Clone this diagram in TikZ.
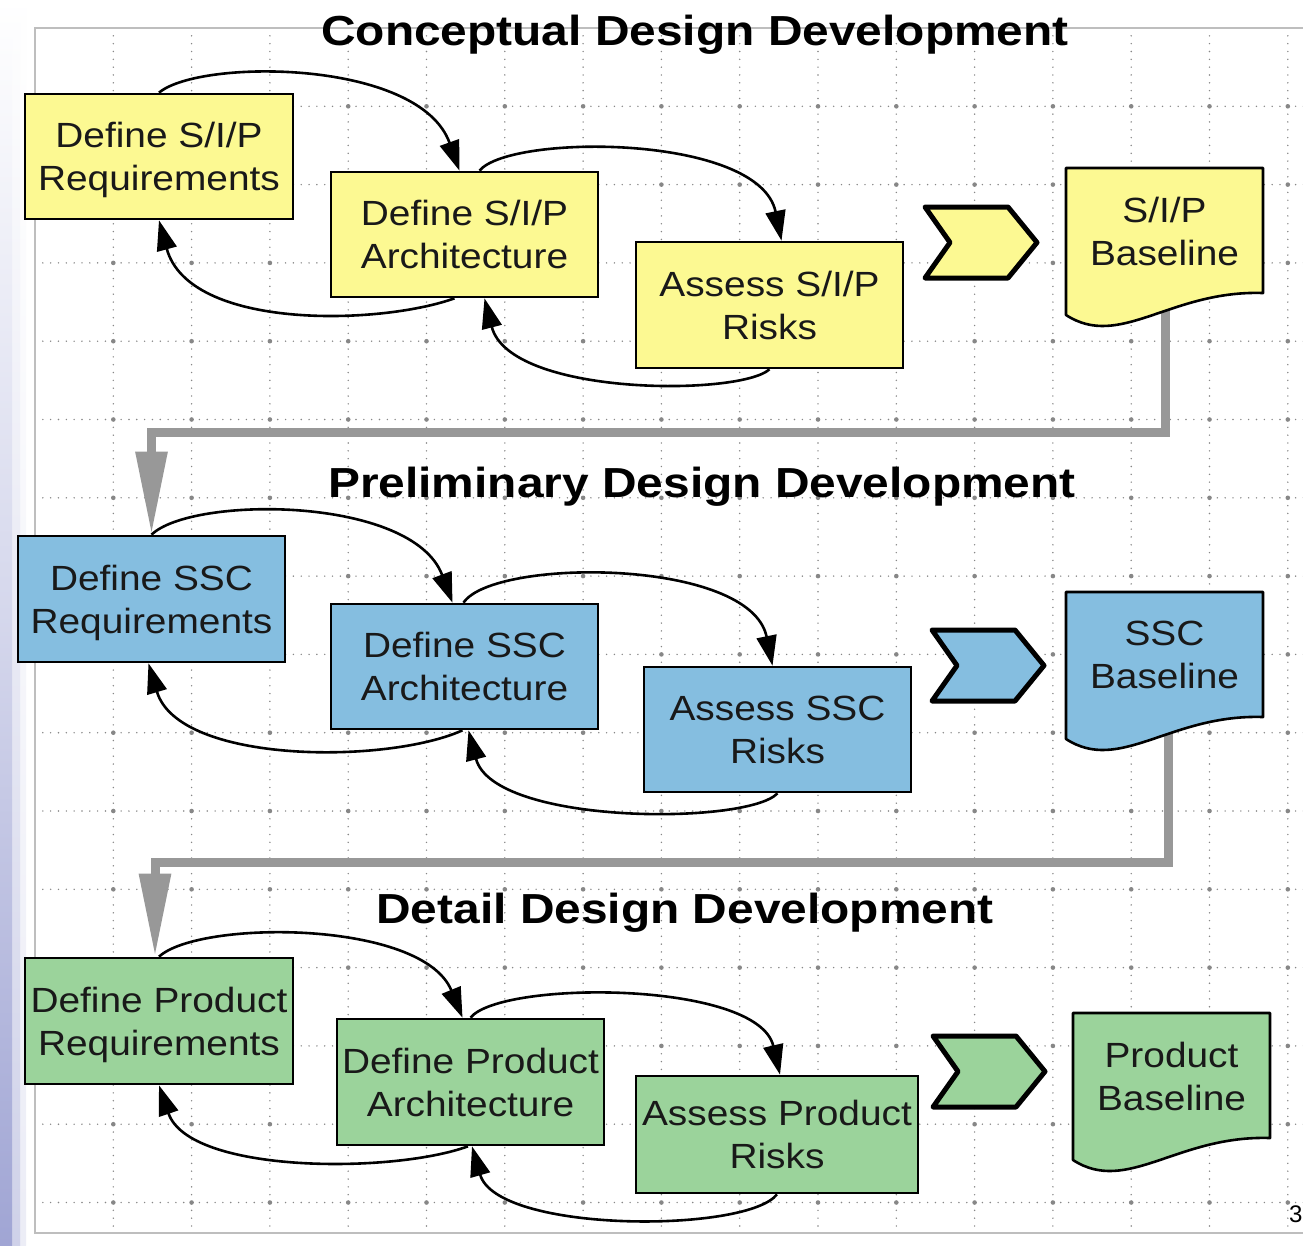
\documentclass[tikz,border=0pt]{standalone}
\usepackage{fontspec}
\setmainfont{Liberation Sans}
\newfontfamily\boxfont{Liberation Sans}[FakeStretch=1.11]
\newfontfamily\headfont{Liberation Sans}[FakeStretch=1.14]
\usetikzlibrary{arrows.meta}

\definecolor{fillY}{RGB}{252,249,146}
\definecolor{fillB}{RGB}{133,190,224}
\definecolor{fillG}{RGB}{155,211,155}
\definecolor{flowgray}{RGB}{152,152,152}
\definecolor{gridgray}{RGB}{135,135,135}
\definecolor{framegray}{RGB}{190,190,190}
\definecolor{lav}{RGB}{160,165,212}

% last text line without its descender, so the lines sit centred on the caps
\newcommand\nodepth[1]{\raisebox{0pt}[\height][0pt]{#1}}
% document symbol with a wavy lower edge: x0, y0, fill, name, text
\newcommand\basedoc[5]{%
  \filldraw[docline, fill=#3] (#1,#2) -- ++(197,0) -- ++(0,125)
     .. controls +(-93,-3) and +(54,35) .. ++(-197,22) -- cycle;
  \node[doctext] (#4) at ({#1+98.5},{#2+63}) {#5};}
% chevron marker: x0, y0, fill
\newcommand\chevshape[3]{%
  \filldraw[chevline, fill=#3] (#1,#2) -- ++(83,0) -- ++(29,35.5)
     -- ++(-29,35.5) -- ++(-83,0) -- ++(25,-35.5) -- cycle;}

\begin{document}
\begin{tikzpicture}[x=1pt,y=-1pt,
  taskbox/.style={draw=black, line width=2.6pt, inner sep=0pt, align=center,
    minimum width=267pt, minimum height=126pt,
    font=\boxfont\fontsize{35}{43}\selectfont, text=black!90},
  doctext/.style={inner sep=0pt, align=center,
    font=\boxfont\fontsize{35}{43}\selectfont, text=black!90},
  docline/.style={draw=black, line width=2.6pt, line join=round},
  chevline/.style={draw=black, line width=5pt, line join=round},
  headline/.style={inner sep=0pt, anchor=base,
    font=\headfont\bfseries\fontsize{42}{50}\selectfont},
  loop/.style={draw=black, line width=2.6pt,
    -{Triangle[length=30pt,width=20pt]}},
  flow/.style={draw=flowgray, line width=9pt,
    -{Triangle[length=83pt,width=30pt]}},
  gridline/.style={draw=gridgray, line width=1.6pt, line cap=round,
    dash pattern=on 0pt off 7.83pt},
]
\useasboundingbox (0,0) rectangle (1303,1245);
\fill[white] (0,0) rectangle (1303,1245);

% slide edge
\shade[top color=white, bottom color=lav, middle color=lav!45] (0,0) rectangle (12,1245);
\shade[top color=white, bottom color=lav, middle color=lav!45, opacity=0.5] (12,0) rectangle (20,1245);
\shade[top color=white, bottom color=lav, middle color=lav!45, opacity=0.2] (20,0) rectangle (26,1245);

% dotted grid
\foreach \k in {1,...,16} {
  \draw[gridline] ({35+78.3*\k},28) -- ({35+78.3*\k},1233);
}
\foreach \k in {1,...,15} {
  \draw[gridline] (35,{28+78.3*\k}) -- (1315,{28+78.3*\k});
}
\foreach \i in {1,...,16} {
  \foreach \j in {1,...,15} {
    \fill[gridgray] ({35+78.3*\i},{28+78.3*\j}) circle[radius=2.3pt];
  }
}
\draw[framegray, line width=1.6pt] (35,28) rectangle (1320,1233);

% titles
\node[headline] (t1) at (695,45) {Conceptual Design Development};
\node[headline] (t2) at (702,497) {Preliminary Design Development};
\node[headline] (t3) at (685,923) {Detail Design Development};

% task boxes
\node[taskbox, fill=fillY, minimum width=268pt, minimum height=125pt] (A1) at (159,156.5) {Define S/I/P\\\nodepth{Requirements}};
\node[taskbox, fill=fillY, minimum height=125pt] (A2) at (464.5,234.5) {Define S/I/P\\Architecture};
\node[taskbox, fill=fillY] (A3) at (769.5,305) {Assess S/I/P\\Risks};

\node[taskbox, fill=fillB] (B1) at (151.5,599) {Define SSC\\\nodepth{Requirements}};
\node[taskbox, fill=fillB, minimum height=125pt] (B2) at (464.5,666.5) {Define SSC\\Architecture};
\node[taskbox, fill=fillB, minimum height=125pt] (B3) at (777.5,729.5) {Assess SSC\\Risks};

\node[taskbox, fill=fillG, minimum width=268pt] (C1) at (159,1021) {Define Product\\\nodepth{Requirements}};
\node[taskbox, fill=fillG] (C2) at (470.5,1082) {Define Product\\Architecture};
\node[taskbox, fill=fillG, minimum width=282pt, minimum height=117pt] (C3) at (777,1134.5) {Assess Product\\Risks};

% hand-off from one baseline to the next stage
\coordinate (outA) at (1165,300);
\coordinate (outB) at (1168,725);
\draw[flow] (outA) -- (1165,432) -| (B1.north);
\draw[flow] (outB) -- (1168,862) -| ([xshift=-4pt]C1.north);

% baselines and chevrons
\basedoc{1066}{168}{fillY}{DA}{S/I/P\\Baseline}
\basedoc{1066}{592}{fillB}{DB}{SSC\\Baseline}
\basedoc{1073}{1013}{fillG}{DC}{Product\\Baseline}
\chevshape{925}{207}{fillY}
\chevshape{932}{630}{fillB}
\chevshape{933}{1036}{fillG}

% iteration loops, conceptual stage
\draw[loop] (A1.north) .. controls +(40,-34) and +(-40,-112) .. ([xshift=-5pt]A2.north);
\draw[loop] ([xshift=15pt]A2.north) .. controls +(30,-37) and +(-22,-107) .. ([xshift=12pt]A3.north);
\draw[loop] ([xshift=-10pt]A2.south) .. controls +(-75,27) and +(30,110) .. (A1.south);
\draw[loop] (A3.south) .. controls +(-30,27) and +(25,98) .. ([xshift=20pt]A2.south);

% iteration loops, preliminary stage
\draw[loop] (B1.north) .. controls +(40,-39) and +(-40,-107) .. ([xshift=-12pt]B2.north);
\draw[loop] ([xshift=-1pt]B2.north) .. controls +(30,-45) and +(-22,-108) .. ([xshift=-5pt]B3.north);
\draw[loop] ([xshift=-2pt]B2.south) .. controls +(-75,34) and +(30,101) .. ([xshift=-3pt]B1.south);
\draw[loop] (B3.south) .. controls +(-30,32) and +(25,95) .. ([xshift=4pt]B2.south);

% iteration loops, detail stage
\draw[loop] (C1.north) .. controls +(40,-37) and +(-40,-98) .. ([xshift=-8pt]C2.north);
\draw[loop] (C2.north) .. controls +(30,-37.5) and +(-22,-94.5) .. ([xshift=3pt]C3.north);
\draw[loop] ([xshift=-2.5pt]C2.south) .. controls +(-75,27.5) and +(30,88.5) .. (C1.south);
\draw[loop] (C3.south) .. controls +(-30,39) and +(25,87) .. ([xshift=1.5pt]C2.south);

% page number
\node[anchor=base west, inner sep=0pt, font=\fontsize{24}{28}\selectfont] (pg) at (1289,1222) {3};
\end{tikzpicture}
\end{document}
